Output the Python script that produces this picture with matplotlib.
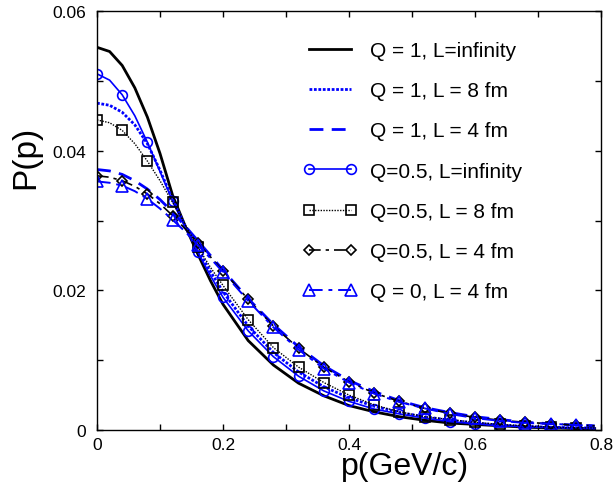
import numpy as np
import matplotlib
matplotlib.use("Agg")
import matplotlib.pyplot as plt

plt.rcParams['font.family'] = ['Liberation Sans', 'DejaVu Sans']

# momentum grid (GeV/c)
p = np.array([0.00, 0.02, 0.04, 0.06, 0.08, 0.10, 0.12, 0.14, 0.16, 0.18, 0.20,
              0.24, 0.28, 0.32, 0.36, 0.40, 0.44, 0.48, 0.52, 0.56, 0.60,
              0.64, 0.68, 0.72, 0.76, 0.79])

q1_linf = [0.0548, 0.0542, 0.0522, 0.0490, 0.0448, 0.0396, 0.0336, 0.0292, 0.0252, 0.0214, 0.0180,
           0.0128, 0.0093, 0.0067, 0.0049, 0.0035, 0.0026, 0.0019, 0.0014, 0.0010, 0.0008,
           0.0006, 0.0004, 0.0003, 0.0002, 0.0002]
q1_l8 = [0.0468, 0.0465, 0.0455, 0.0437, 0.0410, 0.0372, 0.0330, 0.0292, 0.0258, 0.0227, 0.0198,
         0.0149, 0.0111, 0.0083, 0.0062, 0.0046, 0.0034, 0.0025, 0.0019, 0.0014, 0.0010,
         0.0007, 0.0005, 0.0004, 0.0003, 0.0003]
q1_l4 = [0.0373, 0.0371, 0.0366, 0.0357, 0.0345, 0.0330, 0.0312, 0.0292, 0.0271, 0.0250, 0.0229,
         0.0188, 0.0151, 0.0119, 0.0092, 0.0071, 0.0055, 0.0042, 0.0032, 0.0025, 0.0019,
         0.0015, 0.0011, 0.0009, 0.0007, 0.0006]
q05_linf = [0.0510, 0.0501, 0.0480, 0.0450, 0.0412, 0.0370, 0.0328, 0.0290, 0.0255, 0.0221, 0.0190,
            0.0142, 0.0105, 0.0077, 0.0056, 0.0041, 0.0030, 0.0023, 0.0017, 0.0012, 0.0009,
            0.0006, 0.0005, 0.0004, 0.0003, 0.0002]
q05_l8 = [0.0444, 0.0440, 0.0429, 0.0410, 0.0385, 0.0357, 0.0326, 0.0294, 0.0262, 0.0233, 0.0207,
          0.0158, 0.0118, 0.0090, 0.0068, 0.0050, 0.0036, 0.0026, 0.0019, 0.0015, 0.0011,
          0.0008, 0.0006, 0.0004, 0.0003, 0.0003]
q05_l4 = [0.0364, 0.0362, 0.0357, 0.0349, 0.0338, 0.0324, 0.0307, 0.0288, 0.0268, 0.0248, 0.0228,
          0.0187, 0.0149, 0.0117, 0.0090, 0.0069, 0.0053, 0.0041, 0.0031, 0.0024, 0.0018,
          0.0014, 0.0011, 0.0009, 0.0007, 0.0006]
q0_l4 = [0.0356, 0.0354, 0.0350, 0.0342, 0.0331, 0.0317, 0.0301, 0.0284, 0.0265, 0.0246, 0.0226,
         0.0185, 0.0147, 0.0115, 0.0088, 0.0068, 0.0052, 0.0040, 0.0031, 0.0023, 0.0017,
         0.0013, 0.0010, 0.0009, 0.0007, 0.0006]

labels = ["Q = 1, L=infinity", "Q = 1, L = 8 fm", "Q = 1, L = 4 fm",
          "Q=0.5, L=infinity", "Q=0.5, L = 8 fm", "Q=0.5, L = 4 fm",
          "Q = 0, L = 4 fm"]

xticks = [0, 0.2, 0.4, 0.6, 0.8]
xticklabels = ["0", "0.2", "0.4", "0.6", "0.8"]
yticks = [0, 0.02, 0.04, 0.06]
yticklabels = ["0", "0.02", "0.04", "0.06"]

# markers only on every 0.04 GeV/c
marks = [i for i, v in enumerate(p) if round(v * 100) % 4 == 0 and v < 0.78]

fig = plt.figure(figsize=(6.14, 4.85), dpi=100)
ax = fig.add_axes([97 / 614, 1 - 431 / 485, 504 / 614, 419 / 485])

ax.plot(p, q1_linf, color='black', lw=2.0, ls='-', label=labels[0])
ax.plot(p, q1_l8, color='blue', lw=2.0, ls=(0, (1, 0.6)), label=labels[1])
ax.plot(p, q1_l4, color='blue', lw=2.0, ls=(0, (5, 3)), label=labels[2])
ax.plot(p, q05_linf, color='blue', lw=1.2, ls='-', marker='o', ms=7, mfc='none',
        mew=1.2, markevery=marks, label=labels[3])
ax.plot(p, q05_l8, color='black', lw=1.0, ls=(0, (1, 1)), marker='s', ms=6.5, mfc='none',
        mew=1.2, markevery=marks, label=labels[4])
ax.plot(p, q05_l4, color='black', lw=1.2, ls=(0, (7, 3, 2, 3)), marker='D', ms=5.5, mfc='none',
        mew=1.2, markevery=marks, label=labels[5])
ax.plot(p, q0_l4, color='blue', lw=1.4, ls=(0, (7, 3, 2, 3)), marker='^', ms=8, mfc='none',
        mew=1.2, markevery=marks, label=labels[6])

ax.set_xlim(0, 0.8)
ax.set_ylim(0, 0.06)
ax.set_xticks(xticks)
ax.set_xticklabels(xticklabels)
ax.set_xticks([0.1, 0.3, 0.5, 0.7], minor=True)
ax.set_yticks(yticks)
ax.set_yticklabels(yticklabels)
ax.set_yticks([0.01, 0.03, 0.05], minor=True)
ax.tick_params(which='both', direction='in', top=True, right=True, length=4, width=1,
               labelsize=12.5)
ax.tick_params(axis='x', pad=5)
ax.tick_params(axis='y', pad=8)
for s in ax.spines.values():
    s.set_linewidth(1.0)

ax.set_xlabel("p(GeV/c)", fontsize=23)
ax.xaxis.set_label_coords(0.611, -0.05, transform=ax.transAxes)
ax.xaxis.label.set_va('top')
ax.set_ylabel("P(p)", fontsize=24)
ax.yaxis.set_label_coords((26 - 97) / 504, (431 - 157) / 419, transform=ax.transAxes)
ax.yaxis.label.set_va('center')

ax.legend(loc='upper left', bbox_to_anchor=((303 - 97) / 504, (431 - 42) / 419),
          frameon=False, fontsize=15, handlelength=2.6, handletextpad=0.6,
          labelspacing=1.02, borderpad=0, borderaxespad=0, numpoints=2)

fig.savefig("out.png", dpi=100)
